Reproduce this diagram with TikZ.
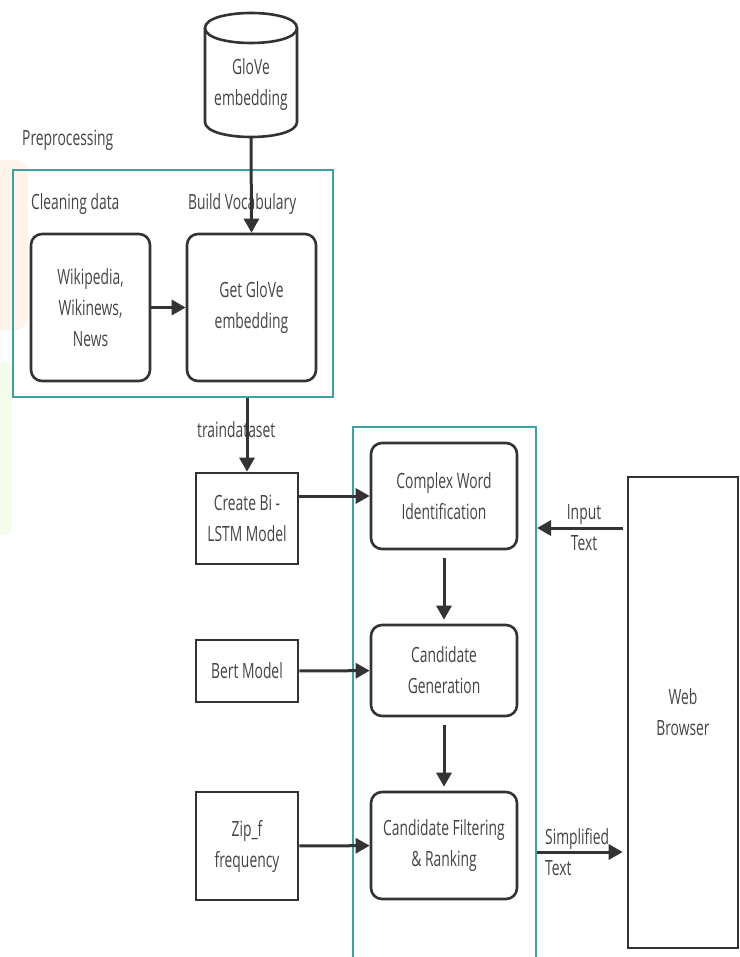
\documentclass[tikz,border=0pt]{standalone}
\usepackage{fontspec}
\setmainfont[FakeStretch=0.66]{Open Sans}
\usetikzlibrary{arrows.meta}
\definecolor{tealline}{RGB}{58,163,163}
\definecolor{inkgray}{RGB}{51,51,51}
\definecolor{textgray}{RGB}{68,68,68}
\definecolor{blobpeach}{RGB}{255,243,234}
\definecolor{blobgreen}{RGB}{244,252,236}

\begin{document}
\begin{tikzpicture}[x=1pt,y=1pt,yscale=-1,xscale=1,
  font=\fontsize{21}{31}\selectfont, text=textgray,
  box/.style={draw=inkgray, line width=2.6pt, rounded corners=11pt, align=center, inner sep=0pt},
  sqbox/.style={draw=inkgray, line width=2.6pt, align=center, inner sep=0pt},
  group/.style={draw=tealline, line width=2pt, inner sep=0pt},
  lbl/.style={inner sep=0pt, align=center},
  arr/.style={draw=inkgray, line width=3pt, -{Triangle[length=14pt,width=15pt]}},
  line/.style={draw=inkgray, line width=2.6pt}]
\useasboundingbox (0,0) rectangle (739,957);

%Shape: faint background marks
\fill[blobpeach, rounded corners=12pt] (-10,160) rectangle (28,330);
\fill[blobgreen, rounded corners=8pt] (-10,362) rectangle (12,535);

%Shape: Can [glove]
\draw[line] (205,28) -- (205,122) .. controls (205,142) and (297,142) .. (297,122) -- (297,28);
\draw[line] (205,28) .. controls (205,8) and (297,8) .. (297,28) .. controls (297,48) and (205,48) .. (205,28) -- cycle;
\node[lbl] (glove) at (251,85) {GloVe\\embedding};
\coordinate (globot) at (251,137);

%Shape: Rectangle [preprocessing group]
\node[group, minimum width=320pt, minimum height=227pt] (prep) at (173,283.5) {};
\node[box, minimum width=119pt, minimum height=147pt] (wiki) at (90.5,307.5) {Wikipedia,\\Wikinews,\\News};
\node[box, minimum width=129pt, minimum height=147pt] (getglove) at (251.5,307.5) {Get GloVe\\embedding};

%Shape: Rectangle [simplification group]
\node[group, minimum width=183pt, minimum height=534pt] (simp) at (444.5,694) {};
\node[box, minimum width=146pt, minimum height=106pt] (cwi) at (444,496) {Complex Word\\Identification};
\node[box, minimum width=146pt, minimum height=91pt] (cgen) at (444,670.5) {Candidate\\Generation};
\node[box, minimum width=146pt, minimum height=107pt] (cfilt) at (444,845.5) {Candidate Filtering\\\& Ranking};

%Shape: Rectangle [models]
\node[sqbox, minimum width=102pt, minimum height=91pt] (bilstm) at (247,518.5) {Create Bi -\\LSTM Model};
\node[sqbox, minimum width=102pt, minimum height=62pt] (bert) at (247,671) {Bert Model};
\node[sqbox, minimum width=102pt, minimum height=108pt] (zipf) at (247,846) {Zip\_f\\frequency};

%Shape: Rectangle [browser]
\node[sqbox, minimum width=110pt, minimum height=471pt] (web) at (683,712.5) {Web\\Browser};

% Text Node
\node[lbl, anchor=west] (preplbl) at (22,140) {Preprocessing};
% Text Node
\node[lbl, anchor=west] (clean) at (31,204) {Cleaning data};
% Text Node
\node[lbl, anchor=west] (vocab) at (188,204) {Build Vocabulary};
% Text Node
\node[lbl, anchor=west] (train) at (197,430) {traindataset};
% Text Node
\node[lbl] (intext) at (584,528) {Input\\Text};
% Text Node
\node[lbl, align=left, anchor=west] (outtext) at (545,852) {Simplified\\Text};

%Straight Lines
\draw[arr] (globot) -- (getglove.north);
\draw[arr] (wiki) -- (getglove);
\draw[arr] (prep.south -| bilstm.north) -- (bilstm.north);
\draw[arr] (bilstm.east |- cwi) -- (cwi.west);
\draw[arr] (bert) -- (cgen);
\draw[arr] (zipf) -- (cfilt);
\draw[arr, shorten <=8pt, shorten >=4pt] (cwi) -- (cgen);
\draw[arr, shorten <=8pt, shorten >=4pt] (cgen) -- (cfilt);
\draw[arr, shorten <=4pt] (web.west |- intext) -- (simp.east |- intext);
\draw[arr, shorten >=4pt] (simp.east |- outtext) -- (web.west |- outtext);

\end{tikzpicture}
\end{document}
